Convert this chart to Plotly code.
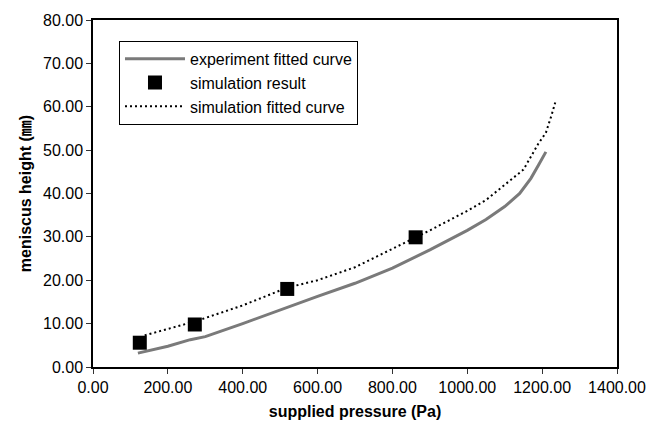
import plotly.graph_objects as go

# experiment fitted curve
exp_x = [120, 200, 260, 300, 400, 500, 600, 700, 800, 900, 1000, 1050, 1100, 1140, 1170, 1190, 1205, 1210]
exp_y = [3.2, 4.8, 6.3, 7.0, 10.0, 13.2, 16.3, 19.3, 22.8, 27.0, 31.5, 34.0, 37.0, 40.0, 43.5, 46.5, 49.0, 49.6]

# simulation result
sim_x = [125, 272, 519, 862]
sim_y = [5.6, 9.8, 18.0, 29.9]

# simulation fitted curve
simfit_x = [138, 200, 272, 300, 400, 519, 600, 700, 800, 862, 900, 1000, 1050, 1100, 1150, 1190, 1210, 1225, 1235]
simfit_y = [7.3, 8.7, 10.5, 11.3, 14.2, 18.3, 20.0, 23.0, 27.3, 29.9, 31.5, 36.0, 38.5, 42.0, 45.5, 51.5, 54.0, 58.0, 61.0]

x_ticks = [0, 200, 400, 600, 800, 1000, 1200, 1400]
y_ticks = [0, 10, 20, 30, 40, 50, 60, 70, 80]

FONT = "Liberation Sans, Arial, Noto Sans CJK JP, sans-serif"

fig = go.Figure()
fig.add_trace(go.Scatter(
    x=exp_x, y=exp_y, mode="lines", name="experiment fitted curve",
    line=dict(color="#7a7a7a", width=3), legendgroup="a"))
fig.add_trace(go.Scatter(
    x=sim_x, y=sim_y, mode="markers", name="simulation result",
    marker=dict(symbol="square", size=14, color="black"), legendgroup="b"))
fig.add_trace(go.Scatter(
    x=simfit_x, y=simfit_y, mode="lines", name="simulation fitted curve",
    line=dict(color="black", width=2, dash="2px,3px"), legendgroup="b"))

axis_common = dict(
    showgrid=False, zeroline=False, showline=True, linecolor="black", linewidth=1.5,
    mirror=True, ticks="outside", ticklen=5, tickcolor="#333333", tickwidth=1,
    tickformat=".2f", tickfont=dict(family=FONT, size=16, color="black"),
)

fig.update_layout(
    width=664, height=431,
    margin=dict(l=93, r=47, t=13, b=64),
    paper_bgcolor="white", plot_bgcolor="white",
    font=dict(family=FONT, size=16, color="black"),
    xaxis=dict(range=[0, 1400], tickvals=x_ticks,
               title=dict(text="<b>supplied pressure (Pa)</b>", font=dict(family=FONT, size=16), standoff=11),
               **axis_common),
    yaxis=dict(range=[0, 80], tickvals=y_ticks,
               title=dict(text="<b>meniscus height (㎜)</b>", font=dict(family=FONT, size=16), standoff=7),
               **axis_common),
    legend=dict(x=0.0496, y=0.94, xanchor="left", yanchor="top",
                bgcolor="white", bordercolor="black", borderwidth=1,
                font=dict(family=FONT, size=16), itemwidth=60,
                tracegroupgap=6, traceorder="normal"),
    showlegend=True,
)

fig.write_html("out.html")
